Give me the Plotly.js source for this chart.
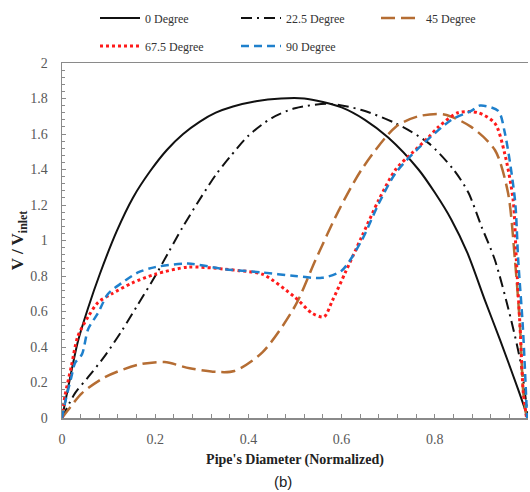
<!DOCTYPE html>
<html>
<head>
<meta charset="utf-8">
<script src="https://cdn.plot.ly/plotly-3.0.1.min.js"></script>
<style>html,body{margin:0;padding:0;background:#fff;}#chart{width:530px;height:492px;}</style>
</head>
<body>
<div id="chart"></div>
<script>
// Data
const seriesNames = ["0 Degree", "22.5 Degree", "45 Degree", "67.5 Degree", "90 Degree"];

const x0 = [0,0.013,0.034,0.056,0.081,0.117,0.152,0.189,0.225,0.26,0.296,0.33,0.367,0.416,0.47,0.52,0.56,0.6,0.65,0.7,0.765,0.8,0.835,0.87,0.908,0.94,0.979,1.0];
const y0 = [0,0.17,0.43,0.62,0.81,1.05,1.24,1.39,1.51,1.60,1.67,1.72,1.755,1.785,1.80,1.80,1.78,1.75,1.68,1.58,1.40,1.27,1.12,0.93,0.66,0.44,0.16,0.0];

const x22 = [0,0.028,0.056,0.092,0.128,0.163,0.2,0.23,0.26,0.3,0.33,0.36,0.4,0.45,0.5,0.573,0.643,0.716,0.786,0.84,0.872,0.9,0.929,0.964,0.985,1.0];
const y22 = [0,0.14,0.23,0.35,0.49,0.64,0.80,0.94,1.08,1.25,1.37,1.47,1.59,1.69,1.745,1.77,1.735,1.66,1.55,1.40,1.27,1.08,0.89,0.55,0.30,0.0];

const x45 = [0,0.013,0.043,0.092,0.163,0.22,0.274,0.33,0.37,0.43,0.5,0.544,0.594,0.643,0.716,0.765,0.82,0.878,0.929,0.957,0.972,0.983,0.99,0.997];
const y45 = [0,0.045,0.14,0.23,0.30,0.315,0.28,0.26,0.265,0.37,0.63,0.89,1.17,1.40,1.64,1.70,1.71,1.64,1.51,1.27,0.89,0.51,0.14,0.0];

const x67 = [0,0.006,0.02,0.034,0.056,0.077,0.107,0.15,0.2,0.27,0.345,0.38,0.43,0.5,0.537,0.562,0.58,0.608,0.643,0.68,0.716,0.75,0.786,0.808,0.85,0.893,0.929,0.95,0.968,0.975,0.983,0.99,0.997];
const y67 = [0,0.12,0.29,0.46,0.57,0.65,0.70,0.76,0.81,0.85,0.84,0.83,0.81,0.68,0.59,0.57,0.66,0.82,1.02,1.23,1.40,1.49,1.58,1.64,1.72,1.72,1.66,1.49,1.23,0.89,0.51,0.14,0];

const x90 = [0,0.006,0.02,0.028,0.043,0.056,0.077,0.099,0.128,0.163,0.2,0.27,0.345,0.43,0.5,0.558,0.6,0.643,0.68,0.716,0.765,0.836,0.878,0.897,0.936,0.95,0.972,0.979,0.989,0.998];
const y90 = [0,0.08,0.23,0.31,0.36,0.50,0.59,0.70,0.76,0.82,0.85,0.87,0.84,0.82,0.80,0.79,0.83,1.0,1.21,1.38,1.52,1.68,1.73,1.76,1.73,1.61,1.23,0.89,0.51,0.0];

const xTicks = [0,0.2,0.4,0.6,0.8];
const xTickText = ["0","0.2","0.4","0.6","0.8"];
const yTicks = [0,0.2,0.4,0.6,0.8,1,1.2,1.4,1.6,1.8,2];
const yTickText = ["0","0.2","0.4","0.6","0.8","1","1.2","1.4","1.6","1.8","2"];

const serif = "'Liberation Serif', 'Times New Roman', serif";

function tr(x, y, name, color, dash, width, legend) {
  return {x: x, y: y, name: name, type: 'scatter', mode: 'lines',
    line: {color: color, dash: dash, width: width, shape: 'spline', smoothing: 0.8},
    legend: legend, hoverinfo: 'skip'};
}

const data = [
  tr(x0, y0, seriesNames[0], '#111111', 'solid', 2, 'legend'),
  tr(x22, y22, seriesNames[1], '#111111', '11px,5px,2px,5px', 2, 'legend2'),
  tr(x45, y45, seriesNames[2], '#b56d33', '14px,6px', 2.5, 'legend3'),
  tr(x67, y67, seriesNames[3], '#ff1a1a', 'dot', 3, 'legend4'),
  tr(x90, y90, seriesNames[4], '#1f80cc', '8px,5px', 2.5, 'legend5')
];

function leg(px, py) {
  return {
    orientation: 'h', xref: 'container', yref: 'container',
    xanchor: 'left', yanchor: 'middle',
    x: px / 530, y: 1 - py / 492,
    font: {family: serif, size: 12, color: '#333'},
    itemwidth: 40,
    bgcolor: 'rgba(0,0,0,0)', borderwidth: 0, itemclick: false
  };
}

const layout = {
  width: 530, height: 492,
  margin: {l: 62, r: 2, t: 63, b: 74},
  paper_bgcolor: '#fff', plot_bgcolor: '#fff',
  showlegend: true,
  legend: leg(95, 18),
  legend2: leg(236, 18),
  legend3: leg(376, 18),
  legend4: leg(95, 46),
  legend5: leg(236, 46),
  xaxis: {
    range: [0, 1], tickvals: xTicks, ticktext: xTickText,
    showgrid: false, zeroline: false,
    showline: true, linecolor: '#8a8a8a', linewidth: 1.5, mirror: true,
    ticks: 'inside', ticklen: 4, tickcolor: '#8a8a8a', tickwidth: 1,
    minor: {dtick: 0.04, tick0: 0, ticks: 'inside', ticklen: 4, tickcolor: '#8a8a8a', tickwidth: 1, showgrid: false},
    tickfont: {family: serif, size: 14, color: '#595959'},
    ticklabelstandoff: 8,
    title: {text: "<b>Pipe's Diameter (Normalized)</b>", font: {family: serif, size: 14, color: '#222'}, standoff: 8}
  },
  yaxis: {
    range: [0, 2], tickvals: yTicks, ticktext: yTickText,
    showgrid: false, zeroline: false,
    showline: true, linecolor: '#8a8a8a', linewidth: 1.5, mirror: false,
    ticks: 'inside', ticklen: 4, tickcolor: '#8a8a8a', tickwidth: 1,
    minor: {dtick: 0.04, tick0: 0, ticks: 'inside', ticklen: 3, tickcolor: '#8a8a8a', tickwidth: 1, showgrid: false},
    tickfont: {family: serif, size: 14, color: '#595959'},
    ticklabelstandoff: 10,
    title: {text: "<b>V / V<sub>inlet</sub></b>", font: {family: serif, size: 17, color: '#222'}, standoff: 2}
  },
  annotations: [
    {text: '(b)', xref: 'paper', yref: 'paper', x: 0.5 - 12/466, y: (418 - 481) / 355, xanchor: 'center', yanchor: 'middle',
     showarrow: false, font: {family: "'Liberation Sans', Arial, sans-serif", size: 15, color: '#222'}}
  ]
};

Plotly.newPlot('chart', data, layout, {staticPlot: true, displayModeBar: false});
</script>
</body>
</html>
